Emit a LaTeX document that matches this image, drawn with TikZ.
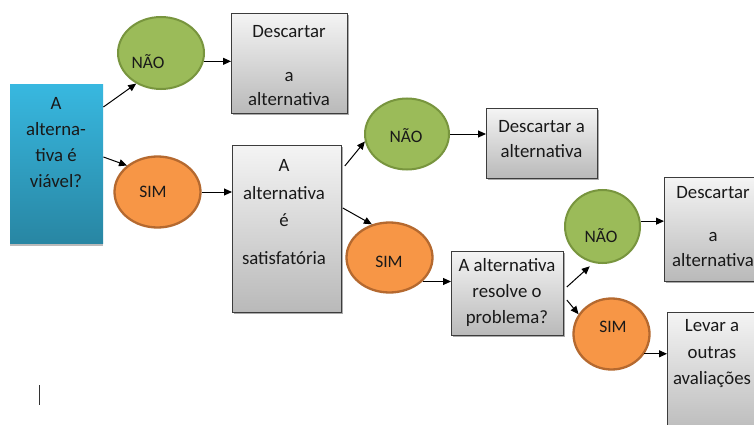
\documentclass[tikz,border=0pt]{standalone}
\usepackage{fontspec}
\setmainfont{Carlito}
\usetikzlibrary{arrows.meta,shapes.geometric,shadows,calc}
\definecolor{boxtop}{HTML}{F4F4F4}
\definecolor{boxbot}{HTML}{B9B9B9}
\definecolor{boxline}{HTML}{3C3C3C}
\definecolor{bluetop}{HTML}{38B8E0}
\definecolor{bluebot}{HTML}{2886A3}
\definecolor{okgreen}{HTML}{9BBB59}
\definecolor{okgreenline}{HTML}{78953E}
\definecolor{simorange}{HTML}{F79646}
\definecolor{simorangeline}{HTML}{B5692F}
\tikzset{
  graybox/.style={rectangle, draw=boxline, line width=0.8pt, top color=boxtop, bottom color=boxbot,
    inner sep=0pt, anchor=north west, drop shadow={shadow xshift=1.5pt, shadow yshift=-2pt, fill=black!55, opacity=0.6}},
  bluebox/.style={rectangle, draw=none, top color=bluetop, bottom color=bluebot,
    inner sep=0pt, anchor=north west, drop shadow={shadow xshift=0pt, shadow yshift=-2.5pt, fill=black!45, opacity=0.6}},
  naoell/.style={ellipse, draw=okgreenline, line width=2pt, fill=okgreen, inner sep=0pt},
  simell/.style={ellipse, draw=simorangeline, line width=2.3pt, fill=simorange, inner sep=0pt},
  btxt/.style={font=\fontsize{18.8}{#1}\selectfont, align=center, anchor=north, inner sep=0pt, text=black!90},
  etxt/.style={font=\fontsize{17.5}{20}\selectfont, anchor=base, inner sep=0pt, text=black!90},
  arr/.style={draw=black, line width=1pt, -{Triangle[length=8pt,width=7pt]}},
  cursorline/.style={draw=black!80, line width=1pt}
}
\newcommand{\fst}{\rule{0pt}{15pt}}
\begin{document}
\begin{tikzpicture}[x=1pt,y=-1pt]
\useasboundingbox (0,0) rectangle (754,425);
\clip (0,0) rectangle (754,425);
\fill[white] (0,0) rectangle (754,425);

% boxes
\node[bluebox, minimum width=93pt, minimum height=159pt] (q1) at (10,84) {};
\node[graybox, minimum width=116pt, minimum height=100pt] (d1) at (231,13) {};
\node[graybox, minimum width=109pt, minimum height=167pt] (s1) at (232,145) {};
\node[graybox, minimum width=111pt, minimum height=70pt] (d2) at (486,108) {};
\node[graybox, minimum width=112pt, minimum height=84pt] (r1) at (451,251) {};
\node[graybox, minimum width=116pt, minimum height=104pt] (d3) at (664,177) {};
\node[graybox, minimum width=116pt, minimum height=125pt] (lv) at (667,312) {};

% ellipses
\node[naoell, minimum width=86pt, minimum height=72pt] (n1) at (161,53) {};
\node[simell, minimum width=86pt, minimum height=71pt] (m1) at (157.5,192) {};
\node[naoell, minimum width=84pt, minimum height=71pt] (n2) at (407,134) {};
\node[simell, minimum width=86pt, minimum height=70pt] (m2) at (389.5,257.5) {};
\node[naoell, minimum width=75pt, minimum height=73pt] (n3) at (602.5,226.5) {};
\node[simell, minimum width=76pt, minimum height=71pt] (m3) at (611.5,334) {};

% texts
\node[btxt=26] (q1t) at (56,94.5) {\fst A\\alterna-\\tiva é\\viável?};
\node[btxt=24] (d1t) at (289,22.5) {\fst Descartar\\[20pt]a\\alternativa};
\node[btxt=27.5] (s1t) at (284,156.5) {\fst A\\alternativa\\é\\[10.5pt]satisfatória};
\node[btxt=25] (d2t) at (541.5,117.5) {\fst Descartar a\\alternativa};
\node[btxt=26] (r1t) at (507,256.5) {\fst A alternativa\\resolve o\\problema?};
\node[btxt=25] (d3t) at (713,183.5) {\fst Descartar\\[18pt]a\\alternativa};
\node[btxt=26.5] (lvt) at (712,316.5) {\fst Levar a\\outras\\avaliações};

\node[etxt] (n1t) at (148,68.5) {NÃO};
\node[etxt] (m1t) at (153,197.5) {SIM};
\node[etxt] (n2t) at (406,142.5) {NÃO};
\node[etxt] (m2t) at (389,267.5) {SIM};
\node[etxt] (n3t) at (601,242.5) {NÃO};
\node[etxt] (m3t) at (613,332.5) {SIM};

% connectors
\draw[arr] ($(q1.north east)+(0,23)$) -- (n1.231);
\draw[arr] ($(q1.north east)+(0,73)$) -- (m1.139);
\draw[arr] (n1.-11) -- (n1.-11 -| d1.west);
\draw[arr] (m1.east) -- (m1.east -| s1.west);
\draw[arr] ($(s1.north east)+(3,21)$) -- (n2.190);
\draw[arr] ($(s1.north east)+(1,63)$) -- (m2.118);
\draw[arr] (n2.east) -- (n2.east -| d2.west);
\draw[arr] (m2.-36) -- (m2.-36 -| r1.west);
\draw[arr, shorten >=5pt] ($(r1.north east)+(3,36)$) -- (n3.256);
\draw[arr] ($(r1.north east)+(3,49)$) -- (m3.149);
\draw[arr] (n3.8) -- (n3.8 -| d3.west);
\draw[arr] (m3.-31) -- (m3.-31 -| lv.west);

% text cursor
\coordinate (cura) at (39,385);
\coordinate (curb) at (39,405);
\draw[cursorline] (cura) -- (curb);
\end{tikzpicture}
\end{document}
